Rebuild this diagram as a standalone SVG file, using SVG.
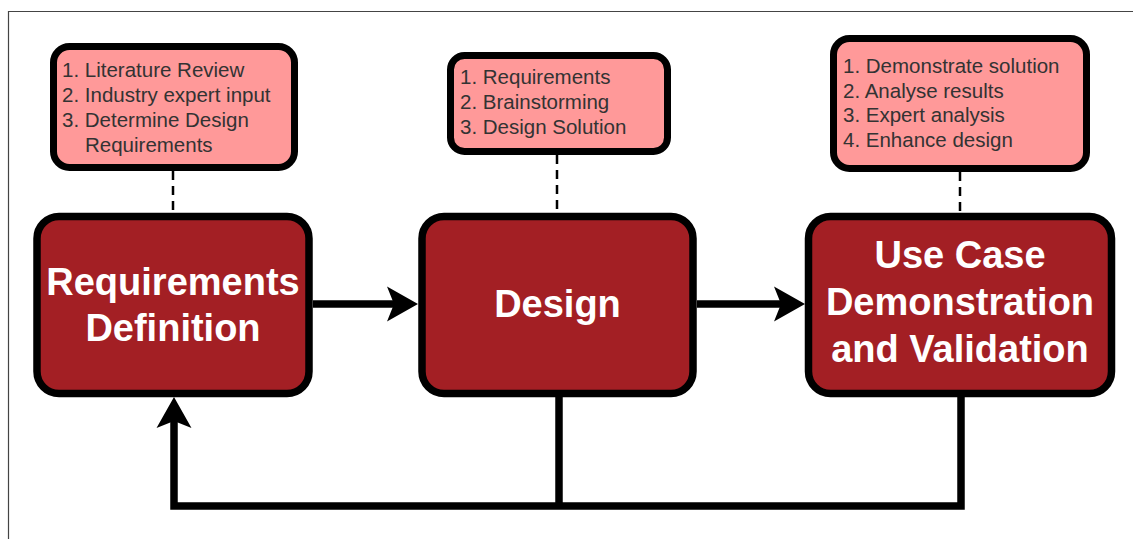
<svg xmlns="http://www.w3.org/2000/svg" width="1133" height="539" viewBox="0 0 1133 539">
<style>
.note rect{fill:#FF9999;stroke:#000;stroke-width:7}
.note text{font-family:"Liberation Sans",Arial,sans-serif;font-size:20.5px;fill:#333}
.main rect{fill:#A31F24;stroke:#000;stroke-width:7.5}
.main text{font-family:"Liberation Sans",Arial,sans-serif;font-size:38px;font-weight:bold;fill:#fff;text-anchor:middle}
.dash{stroke:#000;stroke-width:2.5;stroke-dasharray:9 6;fill:none}
.conn{stroke:#000;stroke-width:7.5;fill:none}
</style>
<defs>
<marker id="arr" markerUnits="userSpaceOnUse" viewBox="-10 -20 36 40" markerWidth="36" markerHeight="40" refX="0" refY="0" orient="auto" overflow="visible">
<path d="M-7,-17.5 L24,0 L-7,17.5 L0,0 Z" fill="#000"/>
</marker>
</defs>
<rect x="0" y="0" width="1133" height="539" fill="#fff"/>
<path d="M8.5,539 V11.5 H1133" fill="none" stroke="#444" stroke-width="1.2"/>
<g id="connectors">
<line class="dash" x1="173" y1="171" x2="173" y2="213"/>
<line class="dash" x1="557" y1="155" x2="557" y2="213"/>
<line class="dash" x1="960" y1="172" x2="960" y2="213"/>
<line class="conn" x1="313" y1="304" x2="394" y2="304" marker-end="url(#arr)"/>
<line class="conn" x1="697" y1="304" x2="781" y2="304" marker-end="url(#arr)"/>
<line class="conn" x1="559" y1="397" x2="559" y2="506"/>
<path class="conn" d="M961,397 V506 H174 V421" marker-end="url(#arr)"/>
</g>
<g id="note1" class="note">
<rect x="53.5" y="46.5" width="241" height="121" rx="16"/>
<text x="62" y="77">1. Literature Review</text>
<text x="62" y="102">2. Industry expert input</text>
<text x="62" y="127">3. Determine Design</text>
<text x="85" y="152">Requirements</text>
</g>
<g id="note2" class="note">
<rect x="450.5" y="55.5" width="217" height="96" rx="14"/>
<text x="460" y="84">1. Requirements</text>
<text x="460" y="109">2. Brainstorming</text>
<text x="460" y="134">3. Design Solution</text>
</g>
<g id="note3" class="note">
<rect x="833.5" y="38.5" width="253" height="130" rx="16"/>
<text x="843" y="73">1. Demonstrate solution</text>
<text x="843" y="98">2. Analyse results</text>
<text x="843" y="122">3. Expert analysis</text>
<text x="843" y="147">4. Enhance design</text>
</g>
<g id="req" class="main">
<rect x="37" y="216.5" width="272" height="177" rx="22"/>
<text x="173" y="295">Requirements</text>
<text x="173" y="341">Definition</text>
</g>
<g id="design" class="main">
<rect x="422" y="216.5" width="271" height="177" rx="22"/>
<text x="557.5" y="317">Design</text>
</g>
<g id="usecase" class="main">
<rect x="808.5" y="216.5" width="303" height="177" rx="22"/>
<text x="960" y="268">Use Case</text>
<text x="960" y="315">Demonstration</text>
<text x="960" y="362">and Validation</text>
</g>
</svg>
